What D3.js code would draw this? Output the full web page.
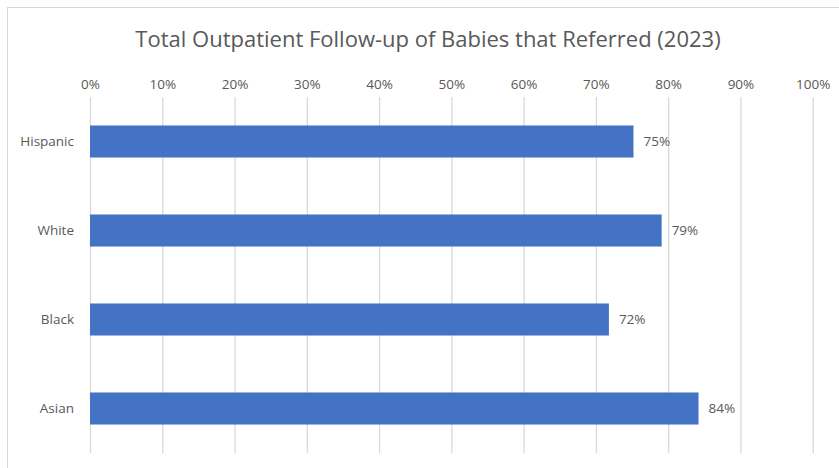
<!DOCTYPE html>
<meta charset="utf-8">
<style>
body { margin: 0; background: #fff; }
text { font-family: "Open Sans", sans-serif; fill: #595959; }
</style>
<svg width="839" height="468"></svg>
<script src="https://d3js.org/d3.v7.min.js"></script>
<script>

var categories = ["Hispanic", "White", "Black", "Asian"];
var values = [0.752, 0.791, 0.718, 0.842];
var valueLabels = ["75%", "79%", "72%", "84%"];
var ticks = [0, 0.1, 0.2, 0.3, 0.4, 0.5, 0.6, 0.7, 0.8, 0.9, 1];

var svg = d3.select("svg"),
    margin = {top: 97, right: 26, bottom: 15, left: 90},
    width = +svg.attr("width") - margin.left - margin.right,
    height = +svg.attr("height") - margin.top - margin.bottom;

// chart frame (runs off the right and bottom of the picture)
svg.append("rect")
    .attr("x", 7.5).attr("y", 7.5)
    .attr("width", 860).attr("height", 500)
    .attr("fill", "none").attr("stroke", "#d9d9d9");

svg.append("text")
    .attr("x", 428).attr("y", 47)
    .attr("text-anchor", "middle")
    .attr("font-size", 22)
    .text("Total Outpatient Follow-up of Babies that Referred (2023)");

var g = svg.append("g").attr("transform", "translate(" + margin.left + "," + margin.top + ")");

var x = d3.scaleLinear().domain([0, 1]).range([0, 722.7]);
var y = d3.scaleBand().domain(categories).range([0, 356]).paddingInner(0.64).paddingOuter(0.32);

var xAxis = g.append("g")
    .call(d3.axisTop(x).tickValues(ticks).tickFormat(d3.format(".0%")).tickSize(-356).tickPadding(8));
xAxis.select(".domain").remove();
xAxis.selectAll("line").attr("stroke", "#d9d9d9").attr("stroke-width", 1.3);
xAxis.selectAll("text").attr("font-size", 13.5).attr("fill", "#595959").attr("font-family", "Open Sans");

g.selectAll("rect.bar")
  .data(values)
  .enter().append("rect")
    .attr("class", "bar")
    .attr("x", 0)
    .attr("y", function(d, i) { return y(categories[i]); })
    .attr("width", function(d) { return x(d); })
    .attr("height", y.bandwidth())
    .attr("fill", "#4472C4");

g.selectAll("text.cat")
  .data(categories)
  .enter().append("text")
    .attr("class", "cat")
    .attr("x", -16)
    .attr("y", function(d) { return y(d) + y.bandwidth() / 2; })
    .attr("dy", "0.35em")
    .attr("text-anchor", "end")
    .attr("font-size", 13.5)
    .text(function(d) { return d; });

g.selectAll("text.val")
  .data(values)
  .enter().append("text")
    .attr("class", "val")
    .attr("x", function(d) { return x(d) + 10; })
    .attr("y", function(d, i) { return y(categories[i]) + y.bandwidth() / 2; })
    .attr("dy", "0.35em")
    .attr("font-size", 13.5)
    .text(function(d, i) { return valueLabels[i]; });

</script>
